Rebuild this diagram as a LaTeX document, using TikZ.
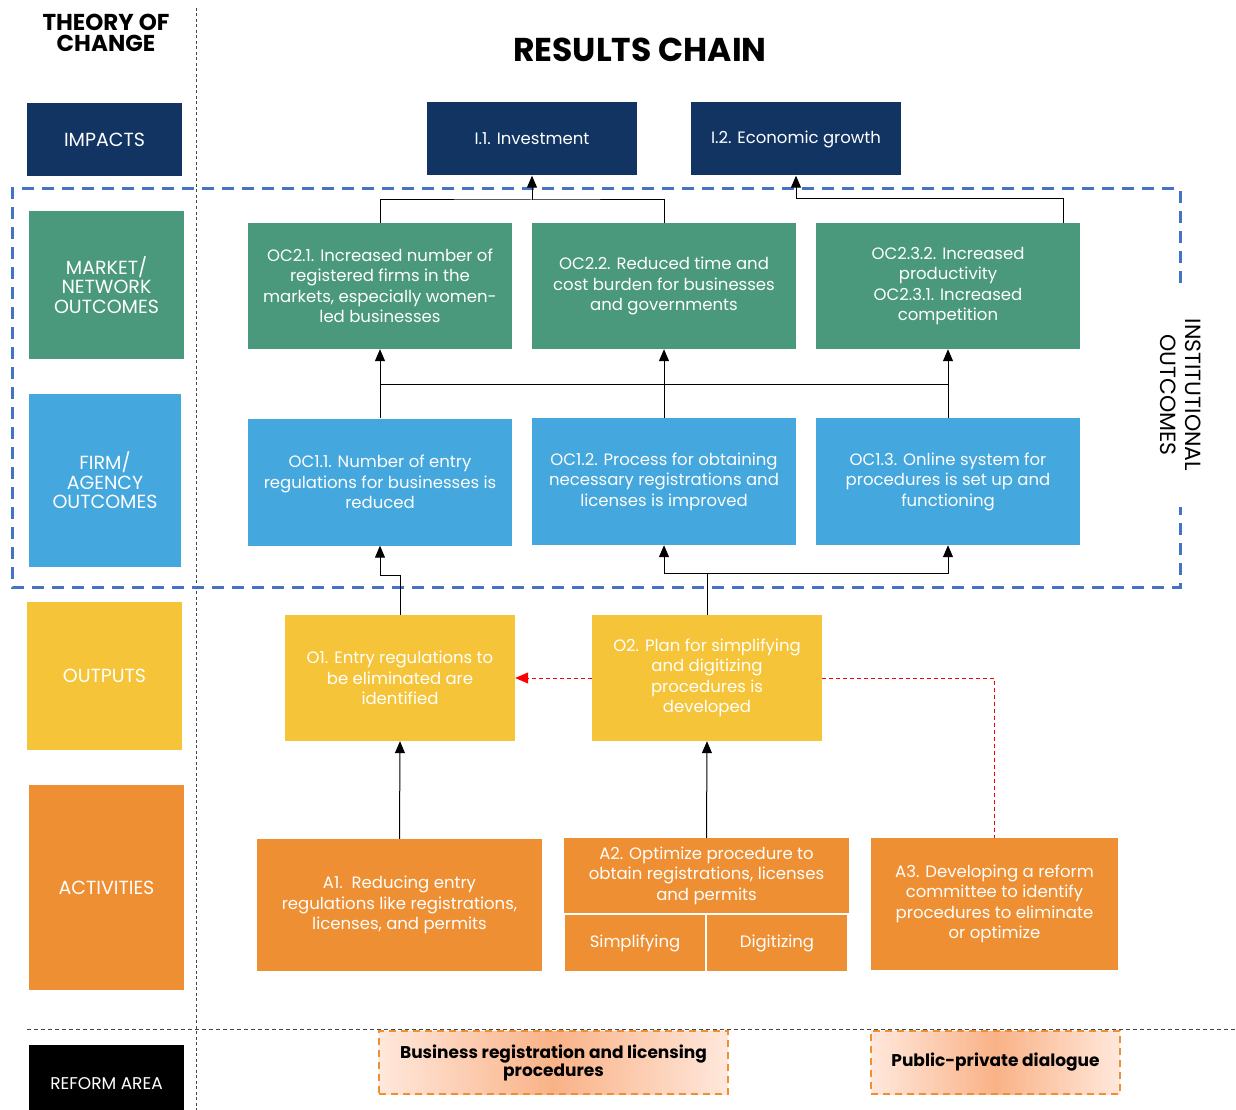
\documentclass[tikz,border=0pt]{standalone}
\usepackage{fontspec}
\setmainfont{Poppins}
\usetikzlibrary{arrows.meta,calc}
\definecolor{navy}{RGB}{17,52,99}
\definecolor{mgreen}{RGB}{74,153,125}
\definecolor{fblue}{RGB}{68,167,221}
\definecolor{oyellow}{RGB}{245,196,56}
\definecolor{aorange}{RGB}{238,143,51}
\definecolor{dashblue}{RGB}{68,114,196}
\definecolor{gridgray}{RGB}{70,70,70}
\definecolor{reformin}{RGB}{249,178,135}
\definecolor{reformout}{RGB}{255,232,220}
\tikzset{
  box/.style={rectangle, inner sep=2pt, align=center, text=white,
    font=\fontsize{16.5}{20.5}\selectfont},
  lbox/.style={rectangle, inner sep=2pt, align=center, text=white,
    font=\fontsize{19}{19.5}\selectfont},
  conn/.style={draw=black, line width=1pt},
  arr/.style={conn, -{Triangle[length=12pt,width=10pt]}},
  redarr/.style={draw=red, line width=1pt, dash pattern=on 4pt off 3pt},
  reform/.style={rectangle, draw=aorange, line width=1.6pt,
    dash pattern=on 7pt off 5pt, left color=reformout, right color=reformout,
    middle color=reformin,
    align=center, font=\bfseries\fontsize{17}{18}\selectfont},
}
\begin{document}
\begin{tikzpicture}[x=1pt,y=-1pt]
\useasboundingbox[fill=white] (0,0) rectangle (1236,1110);

% frame lines
\draw[gridgray, line width=1pt, dash pattern=on 3pt off 2.5pt] (196,8) -- (196,1110);
\draw[gridgray, line width=1pt, dash pattern=on 4pt off 3pt] (27,1029) -- (1236,1029);

% titles
\node[font=\bfseries\fontsize{23}{21.5}\selectfont, align=center, inner sep=0pt] (toc) at (106,33) {THEORY OF\\CHANGE};
\node[font=\bfseries\fontsize{33}{30}\selectfont] (rc) at (640,50) {RESULTS CHAIN};

% institutional outcomes frame
\draw[dashblue, line width=3pt, dash pattern=on 12pt off 8pt]
  (1180,283) -- (1180,189) -- (12,189) -- (12,587) -- (1180,587) -- (1180,507);
\node[rotate=-90, align=center, font=\fontsize{22}{25}\selectfont] (inst) at (1181,395) {INSTITUTIONAL\\OUTCOMES};

% left column
\node[lbox, fill=navy, minimum width=155pt, minimum height=73pt] (limp) at (104.5,139.5) {IMPACTS};
\node[lbox, fill=mgreen, minimum width=155pt, minimum height=148pt] (lmkt) at (106.5,285) {MARKET/\\NETWORK\\OUTCOMES};
\node[lbox, fill=fblue, minimum width=152pt, minimum height=173pt] (lfirm) at (105,480.5) {FIRM/\\AGENCY\\OUTCOMES};
\node[lbox, fill=oyellow, minimum width=155pt, minimum height=148pt] (lout) at (104.5,676) {OUTPUTS};
\node[lbox, fill=aorange, minimum width=155pt, minimum height=205pt] (lact) at (106.5,887.5) {ACTIVITIES};
\node[lbox, fill=black, minimum width=155pt, minimum height=77pt, font=\fontsize{17}{19.5}\selectfont] (lref) at (106.5,1083.5) {REFORM AREA};

% impacts
\node[box, fill=navy, minimum width=210pt, minimum height=73pt] (i1) at (532,139) {I.1. Investment};
\node[box, fill=navy, minimum width=210pt, minimum height=73pt] (i2) at (796,139) {I.2. Economic growth};

% market / network outcomes
\node[box, fill=mgreen, minimum width=264pt, minimum height=126pt] (oc21) at (380,286)
  {OC2.1. Increased number of\\registered firms in the\\markets, especially women-\\led businesses};
\node[box, fill=mgreen, minimum width=264pt, minimum height=126pt] (oc22) at (664,286)
  {OC2.2. Reduced time and\\cost burden for businesses\\and governments};
\node[box, fill=mgreen, minimum width=264pt, minimum height=126pt] (oc23) at (948,286)
  {OC2.3.2. Increased\\productivity\\OC2.3.1. Increased\\competition};

% firm / agency outcomes
\node[box, fill=fblue, minimum width=264pt, minimum height=127pt] (oc11) at (380,482)
  {OC1.1. Number of entry\\regulations for businesses is\\reduced};
\node[box, fill=fblue, minimum width=264pt, minimum height=127pt] (oc12) at (664,481.5)
  {OC1.2. Process for obtaining\\necessary registrations and\\licenses is improved};
\node[box, fill=fblue, minimum width=264pt, minimum height=127pt] (oc13) at (948,481.5)
  {OC1.3. Online system for\\procedures is set up and\\functioning};

% outputs
\node[box, fill=oyellow, minimum width=230pt, minimum height=126pt] (o1) at (400,678)
  {O1. Entry regulations to\\be eliminated are\\identified};
\node[box, fill=oyellow, minimum width=230pt, minimum height=126pt] (o2) at (707,678)
  {O2. Plan for simplifying\\and digitizing\\procedures is\\developed};

% activities
\node[box, fill=aorange, minimum width=285pt, minimum height=132pt] (a1) at (399.5,905)
  {A1.\ \ Reducing entry\\regulations like registrations,\\licenses, and permits};
\node[box, fill=aorange, minimum width=285pt, minimum height=75pt] (a2) at (706.5,875.5)
  {A2. Optimize procedure to\\obtain registrations, licenses\\and permits};
\node[box, fill=aorange, minimum width=140pt, minimum height=56pt] (a2s) at (635,943) {Simplifying};
\node[box, fill=aorange, minimum width=140pt, minimum height=56pt] (a2d) at (777,943) {Digitizing};
\node[box, fill=aorange, minimum width=247pt, minimum height=132pt] (a3) at (994.5,904)
  {A3. Developing a reform\\committee to identify\\procedures to eliminate\\or optimize};

% reform areas
\node[reform, minimum width=349pt, minimum height=63pt] (r1) at (553.5,1062.5)
  {Business registration and licensing\\procedures};
\node[reform, minimum width=249pt, minimum height=63pt] (r2) at (995.5,1062.5)
  {Public-private dialogue};

% outcomes to impacts
\coordinate (j1) at (532,200);
\coordinate (j2) at (796,199);
\coordinate (j3) at (1063,199);
\draw[conn] (oc21.north) |- (j1) -| (oc22.north);
\draw[arr] (j1) -- (i1.south);
\draw[conn] ([xshift=115pt]oc23.north) -- (j3) -- (j2);
\draw[arr] (j2) -- (i2.south);

% firm / agency to market / network outcomes
\coordinate (b1) at (380,384);
\coordinate (b3) at (948,384);
\draw[conn] (b1) -- (b3);
\draw[arr] (oc11.north) -- (oc21.south);
\draw[arr] (oc12.north) -- (oc22.south);
\draw[arr] (oc13.north) -- (oc23.south);

% outputs to firm / agency outcomes
\coordinate (k1) at (400,575);
\coordinate (k2) at (707,573);
\draw[arr] (o1.north) -- (k1) -| (oc11.south);
\draw[conn] (o2.north) -- (k2);
\draw[arr] (k2) -| (oc12.south);
\draw[arr] (k2) -| (oc13.south);

% activities to outputs
\draw[arr] (a1.north) -- (o1.south);
\draw[arr] (a2.north) -- (o2.south);

% dependencies
\draw[redarr, -{Triangle[length=13pt,width=11pt]}] (o2.west) -- (o1.east);
\draw[redarr] (o2.east) -| (a3.north);
\end{tikzpicture}
\end{document}
